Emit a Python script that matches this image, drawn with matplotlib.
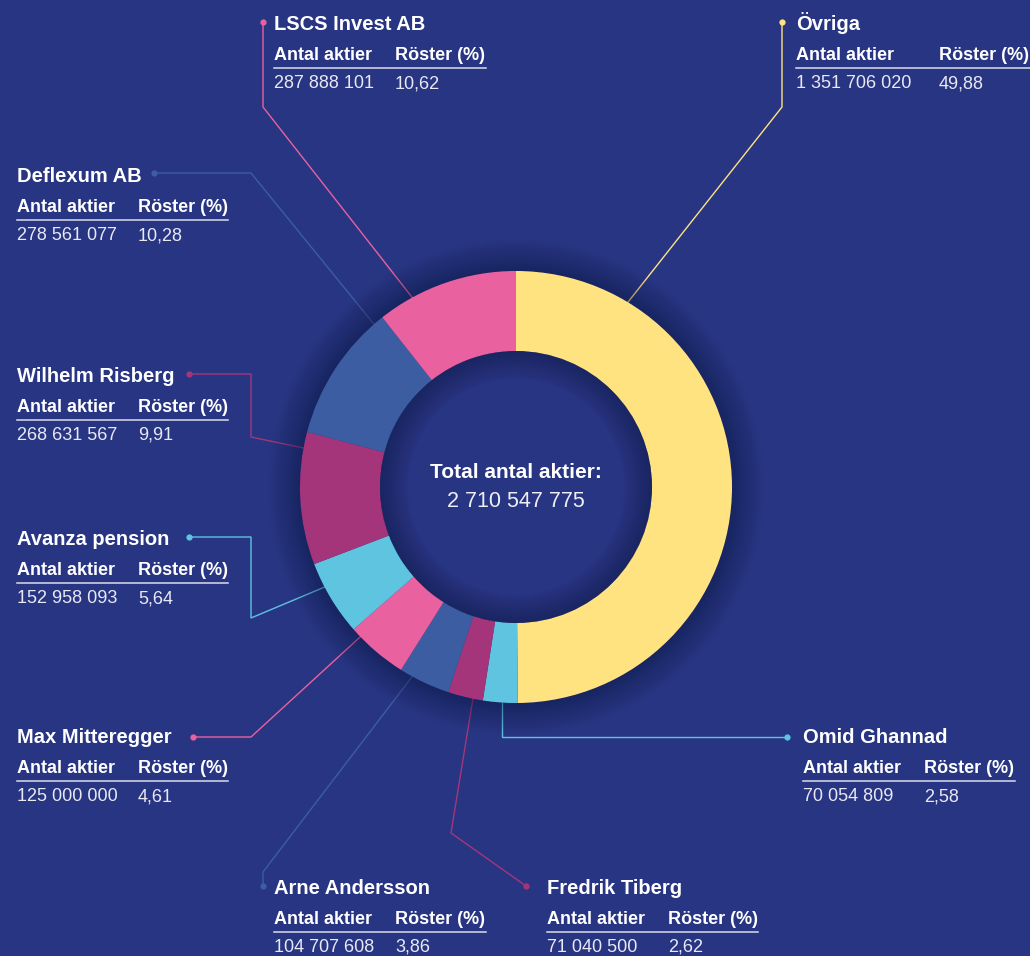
import numpy as np
import matplotlib.pyplot as plt
from matplotlib.patches import Wedge

# data (clockwise from top)
names = ["Övriga", "Omid Ghannad", "Fredrik Tiberg", "Arne Andersson",
         "Max Mitteregger", "Avanza pension", "Wilhelm Risberg",
         "Deflexum AB", "LSCS Invest AB"]
shares = [1351706020, 70054809, 71040500, 104707608, 125000000,
          152958093, 268631567, 278561077, 287888101]
votes = [49.88, 2.58, 2.62, 3.86, 4.61, 5.64, 9.91, 10.28, 10.62]
colors = ["#FFE381", "#5EC4E0", "#A5357B", "#3C5DA1", "#EA619F",
          "#5EC4E0", "#A5357B", "#3C5DA1", "#EA619F"]

BG = "#283583"
cx, cy, R, W = 516, 487, 216, 80

# label layout: text x, name baseline, column offset, underline width,
# anchor angle on ring (deg clockwise from top), elbow points, dot
layout = [
    (796, 30, 143, 240, 31.2, [(782, 107)], (782, 22)),
    (803, 743, 121, 212, 183.7, ["vert"], (787, 737)),
    (547, 894, 121, 211, 191.5, [(451, 833)], (526, 886)),
    (274, 894, 121, 212, 208.7, [(263, 872)], (263, 886)),
    (17, 743, 121, 211, 226.1, [(251, 737)], (193, 737)),
    (17, 545, 121, 211, 242.4, [(251, 618), (251, 537)], (189, 537)),
    (17, 382, 121, 211, 280.4, [(251, 437), (251, 374)], (189, 374)),
    (17, 182, 121, 211, 318.9, [(251, 173)], (154, 173)),
    (274, 30, 121, 212, 331.3, [(263, 107)], (263, 22)),
]

def fmt(n):
    return f"{n:,}".replace(",", " ")

plt.rcParams['font.family'] = ['Liberation Sans', 'DejaVu Sans']

fig = plt.figure(figsize=(10.30, 9.56), dpi=100, facecolor=BG)
ax = fig.add_axes([0, 0, 1, 1])
ax.set_facecolor(BG)

# y axis inverted (pixel coords): startangle=-90 is the top, counterclock runs clockwise on screen
ax.pie(shares, colors=colors, startangle=-90, counterclock=True,
       center=(cx, cy), radius=R,
       wedgeprops=dict(width=W, linewidth=0), frame=True)

# outer glow
for d in range(2, 34, 2):
    ax.add_patch(Wedge((cx, cy), R + d, 0, 360, width=d, facecolor="#0d1238",
                       edgecolor="none", alpha=0.028, zorder=0.5))
# inner shadow inside the hole
for d in range(2, 30, 2):
    ax.add_patch(Wedge((cx, cy), R - W, 0, 360, width=d, facecolor="#0d1238",
                       edgecolor="none", alpha=0.03, zorder=3))

ax.text(cx, 478, "Total antal aktier:", color="white", fontsize=15,
        fontweight="bold", ha="center", va="baseline", zorder=5)
ax.text(cx, 507, fmt(sum(shares)), color="#EEEEF5", fontsize=15.5,
        ha="center", va="baseline", zorder=5)

for i, (tx, by, off, uw, ang, elbows, dot) in enumerate(layout):
    col = colors[i]
    a = np.radians(ang)
    ax_, ay_ = cx + R * np.sin(a), cy - R * np.cos(a)
    pts = [(ax_, ay_)]
    for e in elbows:
        if e == "vert":
            pts.append((ax_, dot[1]))
        else:
            pts.append(e)
    pts.append(dot)
    xs, ys = zip(*pts)
    ax.plot(xs, ys, color=col, lw=1.0, zorder=0.4, solid_joinstyle="miter")
    ax.plot(dot[0], dot[1], "o", color=col, ms=4.5, mec="none", zorder=6)

    ax.text(tx, by, names[i], color="white", fontsize=14.5, fontweight="bold",
            va="baseline", ha="left")
    ax.text(tx, by + 30, "Antal aktier", color="white", fontsize=13,
            fontweight="bold", va="baseline", ha="left")
    ax.text(tx + off, by + 30, "Röster (%)", color="white", fontsize=13,
            fontweight="bold", va="baseline", ha="left")
    ax.plot([tx, tx + uw], [by + 37.5, by + 37.5], color="#DCDDEB", lw=1.1)
    ax.text(tx, by + 58, fmt(shares[i]), color="#E8E9F2", fontsize=13,
            va="baseline", ha="left")
    ax.text(tx + off, by + 58, f"{votes[i]:.2f}".replace(".", ","),
            color="#E8E9F2", fontsize=13, va="baseline", ha="left")

ax.set_xlim(0, 1030)
ax.set_ylim(956, 0)
ax.set_aspect("equal")
ax.axis("off")

fig.savefig("out.png", dpi=100, facecolor=BG)
